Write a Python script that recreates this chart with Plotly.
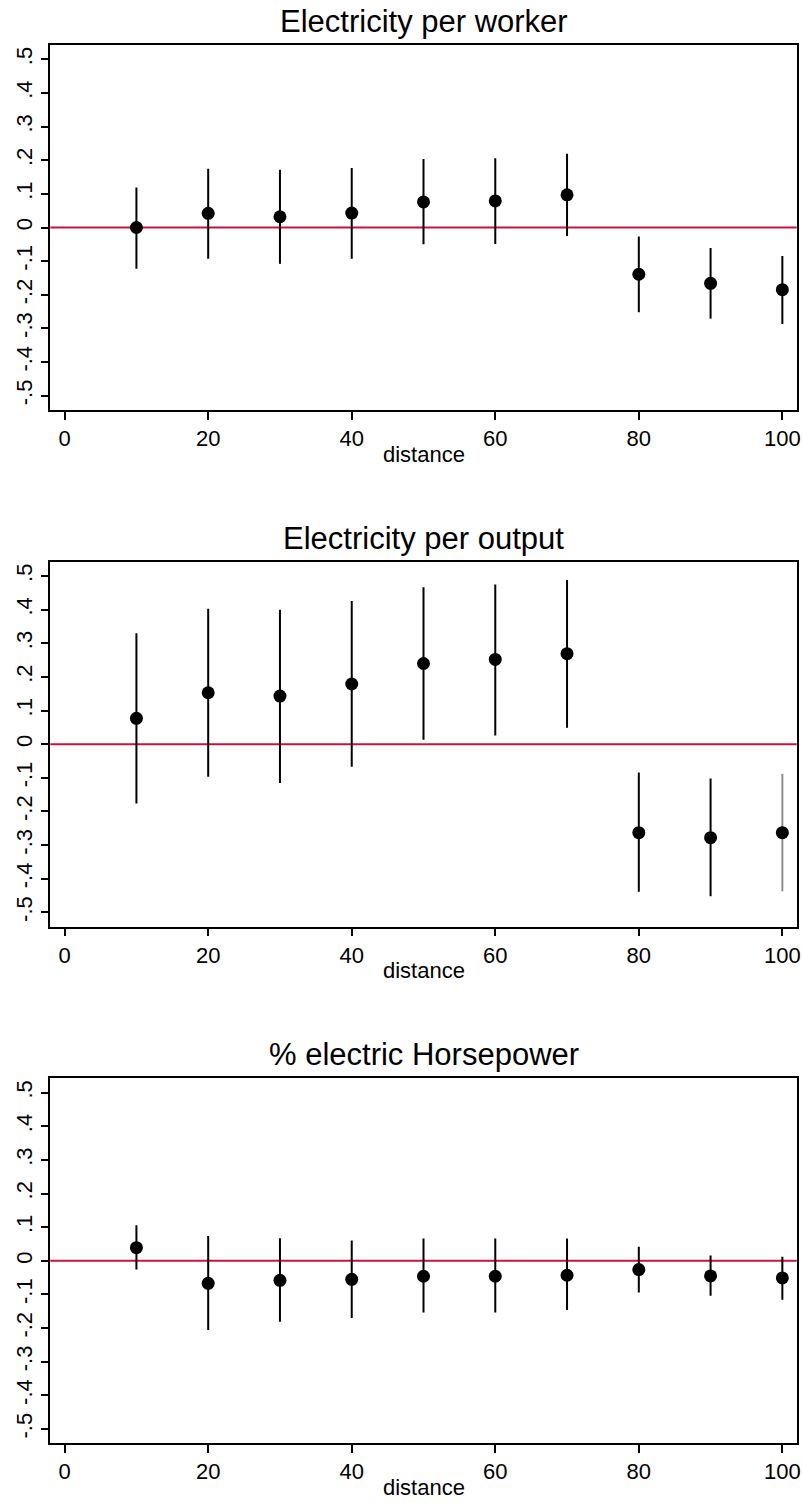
import plotly.graph_objects as go

# ---------------- data ----------------
distance = [10, 20, 30, 40, 50, 60, 70, 80, 90, 100]

panel_titles = ["Electricity per worker", "Electricity per output", "% electric Horsepower"]

worker_coef = [0.000, 0.042, 0.032, 0.043, 0.076, 0.079, 0.097, -0.139, -0.166, -0.185]
worker_hi = [0.119, 0.175, 0.172, 0.177, 0.204, 0.206, 0.219, -0.027, -0.061, -0.085]
worker_lo = [-0.123, -0.093, -0.108, -0.093, -0.050, -0.049, -0.025, -0.252, -0.271, -0.287]

output_coef = [0.077, 0.153, 0.143, 0.179, 0.240, 0.252, 0.269, -0.263, -0.278, -0.263]
output_hi = [0.330, 0.403, 0.400, 0.426, 0.467, 0.475, 0.488, -0.084, -0.102, -0.088]
output_lo = [-0.176, -0.097, -0.115, -0.067, 0.013, 0.026, 0.049, -0.439, -0.452, -0.437]

hp_coef = [0.039, -0.067, -0.058, -0.055, -0.046, -0.046, -0.043, -0.026, -0.045, -0.051]
hp_hi = [0.106, 0.074, 0.067, 0.060, 0.066, 0.066, 0.066, 0.042, 0.016, 0.012]
hp_lo = [-0.026, -0.206, -0.181, -0.170, -0.154, -0.154, -0.146, -0.094, -0.104, -0.116]

x_tickvals = [0, 20, 40, 60, 80, 100]
y_tickvals = [-0.5, -0.4, -0.3, -0.2, -0.1, 0, 0.1, 0.2, 0.3, 0.4, 0.5]
y_ticktext = ["-.5", "-.4", "-.3", "-.2", "-.1", "0", ".1", ".2", ".3", ".4", ".5"]
x_title = "distance"

panels = [
    (worker_coef, worker_hi, worker_lo),
    (output_coef, output_hi, output_lo),
    (hp_coef, hp_hi, hp_lo),
]

# ---------------- layout geometry (pixels) ----------------
W, H = 803, 1503
LEFT, RIGHT = 50.3, 796.7
TOPS = [45.0, 561.7, 1078.3]
BOX_H = 365.0
FONT = "Liberation Sans, Arial, Helvetica, sans-serif"
RED = "#C8143C"
# light-gray CI for last point of middle panel (as in reference)
GRAY_CI = {(1, 9)}

fig = go.Figure()
annotations = []
shapes = []

for k, (coef, hi, lo) in enumerate(panels):
    ax = "" if k == 0 else str(k + 1)
    xref, yref = "x" + ax, "y" + ax
    top, bot = TOPS[k], TOPS[k] + BOX_H

    # confidence intervals: split by colour
    for col in ["black", "#8C8C8C"]:
        idx = [i for i in range(len(distance))
               if ((k, i) in GRAY_CI) == (col != "black")]
        if not idx:
            continue
        fig.add_trace(go.Scatter(
            x=[distance[i] for i in idx],
            y=[coef[i] for i in idx],
            mode="markers",
            marker=dict(size=0.1, color="rgba(0,0,0,0)"),
            error_y=dict(type="data", symmetric=False,
                         array=[hi[i] - coef[i] for i in idx],
                         arrayminus=[coef[i] - lo[i] for i in idx],
                         color=col, thickness=2, width=0),
            xaxis=xref, yaxis=yref, showlegend=False, hoverinfo="skip"))

    # point estimates
    fig.add_trace(go.Scatter(
        x=distance, y=coef, mode="markers",
        marker=dict(size=13, color="black", line=dict(width=0)),
        xaxis=xref, yaxis=yref, showlegend=False))

    dom_y = [1 - bot / H, 1 - top / H]
    dom_x = [LEFT / W, RIGHT / W]
    common = dict(showline=True, mirror=True, linecolor="black", linewidth=1.5,
                  ticks="outside", ticklen=8, tickwidth=1.5, tickcolor="black",
                  showgrid=False, zeroline=False, automargin=False,
                  tickfont=dict(family=FONT, size=22, color="black"))
    fig.update_layout(**{
        "xaxis" + ax: dict(domain=dom_x, range=[-2, 102], tickvals=x_tickvals,
                           anchor=yref, **common),
        "yaxis" + ax: dict(domain=dom_y, range=[-0.5426, 0.5426], tickvals=y_tickvals,
                           ticktext=y_ticktext, tickangle=-90, anchor=xref, **common),
    })

    # zero reference line
    shapes.append(dict(type="line", xref=xref + " domain", yref=yref,
                       x0=0, x1=1, y0=0, y1=0,
                       line=dict(color=RED, width=2), layer="below"))

    cx = (LEFT + RIGHT) / 2 / W
    annotations.append(dict(text=panel_titles[k], x=cx, y=1 - (top - 23.5) / H,
                            xref="paper", yref="paper", showarrow=False,
                            xanchor="center", yanchor="middle",
                            font=dict(family=FONT, size=31, color="black")))
    annotations.append(dict(text=x_title, x=cx, y=1 - (bot + 44) / H,
                            xref="paper", yref="paper", showarrow=False,
                            xanchor="center", yanchor="middle",
                            font=dict(family=FONT, size=22, color="black")))

fig.update_layout(width=W, height=H, margin=dict(l=0, r=0, t=0, b=0),
                  paper_bgcolor="white", plot_bgcolor="white",
                  annotations=annotations, shapes=shapes, showlegend=False)

fig.write_html("out.html")
